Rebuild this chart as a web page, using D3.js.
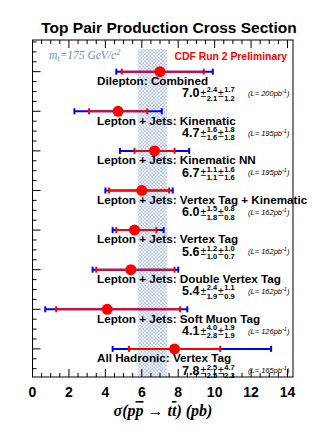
<!DOCTYPE html>
<html><head><meta charset="utf-8">
<script src="https://cdn.jsdelivr.net/npm/d3@7/dist/d3.min.js"></script>
<style>body{margin:0;background:#fff}svg{display:block}</style>
</head><body><div id="c"></div>
<script>
const categories = ["Dilepton: Combined","Lepton + Jets: Kinematic","Lepton + Jets: Kinematic NN","Lepton + Jets: Vertex Tag + Kinematic","Lepton + Jets: Vertex Tag","Lepton + Jets: Double Vertex Tag","Lepton + Jets: Soft Muon Tag","All Hadronic: Vertex Tag"];
const central = [7.0,4.7,6.7,6.0,5.6,5.4,4.1,7.8];
const statUp = [2.4,1.6,1.1,1.5,1.2,2.4,4.0,2.5];
const statDn = [2.1,1.6,1.1,1.8,1.0,1.9,2.8,2.5];
const systUp = [1.7,1.8,1.6,0.8,1.0,1.1,1.9,4.7];
const systDn = [1.2,1.8,1.6,0.8,0.7,0.9,1.9,2.3];
const totUp = [2.9,2.4,1.9,1.7,1.6,2.6,4.4,5.3];
const totDn = [2.4,2.4,1.9,2.0,1.2,2.1,3.4,3.4];
const lumi = ["200","195","195","162","162","162","126","165"];
const theoryBand = [5.8,7.4];
const xTicks = [0,2,4,6,8,10,12,14];

const W=327,H=443;
const L=32.5,R=293,T=40,B=377;
const svg=d3.select("#c").append("svg").attr("width",W).attr("height",H);
const x=d3.scaleLinear().domain([0,14]).range([L,287.5]);
const y=d3.scaleLinear().domain([-0.8,7.71]).range([T,B]);
const SANS="Liberation Sans, Arial, sans-serif";
const SERIF="Liberation Serif, Times New Roman, serif";

const defs=svg.append("defs");
const pat=defs.append("pattern").attr("id","hatch").attr("patternUnits","userSpaceOnUse").attr("width",3.5).attr("height",3.5);
pat.append("rect").attr("width",3.5).attr("height",3.5).attr("fill","#ffffff");
pat.append("path").attr("d","M0,0L3.5,3.5M3.5,0L0,3.5").attr("stroke","#a9bde6").attr("stroke-width",0.8);

// theory band
svg.append("rect").attr("x",x(theoryBand[0])).attr("y",49).attr("width",x(theoryBand[1])-x(theoryBand[0])).attr("height",B-49).attr("fill","url(#hatch)");

// frame
svg.append("rect").attr("x",L).attr("y",T).attr("width",R-L).attr("height",B-T).attr("fill","none").attr("stroke","#000").attr("stroke-width",1);

// x ticks bottom and top
const minor=d3.range(0,14.01,0.5);
const tg=svg.append("g").attr("stroke","#000").attr("stroke-width",1);
minor.forEach(v=>{
  const major = Math.abs(v%2)<1e-6;
  const len = major?8:4;
  tg.append("line").attr("x1",x(v)).attr("x2",x(v)).attr("y1",B).attr("y2",B-len);
  tg.append("line").attr("x1",x(v)).attr("x2",x(v)).attr("y1",T).attr("y2",T+len);
});
// y ticks left
d3.range(-0.75,7.71,0.25).forEach(v=>{
  const major=Math.abs(v-Math.round(v))<1e-6;
  tg.append("line").attr("x1",L).attr("x2",L+(major?8:4)).attr("y1",y(v)).attr("y2",y(v));
});

// x axis labels
svg.append("g").selectAll("text").data(xTicks).join("text")
  .attr("x",d=>x(d)).attr("y",397).attr("text-anchor","middle")
  .attr("font-family",SANS).attr("font-weight","bold").attr("font-size",14)
  .text(d=>d);

// title
svg.append("text").attr("x",169).attr("y",32.5).attr("text-anchor","middle")
  .attr("font-family",SANS).attr("font-weight","bold").attr("font-size",15.5)
  .text("Top Pair Production Cross Section");

// x axis title
const xt=svg.append("text").attr("x",163).attr("y",416).attr("text-anchor","middle")
  .attr("font-family",SERIF).attr("font-style","italic").attr("font-weight","bold").attr("font-size",16);
xt.append("tspan").text("σ(p");
xt.append("tspan").attr("text-decoration","overline").text("p");
xt.append("tspan").text(" → t");
xt.append("tspan").attr("text-decoration","overline").text("t");
xt.append("tspan").text(") (pb)");

// annotations
const mt=svg.append("text").attr("x",49).attr("y",59).attr("fill","#6d8fd0")
  .attr("font-family",SERIF).attr("font-style","italic").attr("font-size",11.5);
mt.append("tspan").text("m");
mt.append("tspan").attr("font-size",8).attr("dy",2).text("t");
mt.append("tspan").attr("dy",-2).text("=175 GeV/c");
mt.append("tspan").attr("font-size",8).attr("dy",-4).text("2");

svg.append("text").attr("x",287).attr("y",60).attr("text-anchor","end").attr("fill","#ff0000")
  .attr("font-family",SANS).attr("font-weight","bold").attr("font-size",10.4)
  .text("CDF Run 2 Preliminary");

const idx=d3.range(categories.length);
const capH=3;
const rows=svg.append("g");
idx.forEach(i=>{
  const yy=y(i);
  const g=rows.append("g");
  // total (blue)
  const x0=x(central[i]-totDn[i]), x1=x(central[i]+totUp[i]);
  g.append("line").attr("x1",x0).attr("x2",x1).attr("y1",yy).attr("y2",yy).attr("stroke","#0000ff").attr("stroke-width",2);
  [x0,x1].forEach(xx=>g.append("line").attr("x1",xx).attr("x2",xx).attr("y1",yy-capH).attr("y2",yy+capH).attr("stroke","#0000ff").attr("stroke-width",2));
  // stat (red)
  const s0=x(central[i]-statDn[i]), s1=x(central[i]+statUp[i]);
  g.append("line").attr("x1",s0).attr("x2",s1).attr("y1",yy).attr("y2",yy).attr("stroke","#ff0000").attr("stroke-width",2);
  [s0,s1].forEach(xx=>g.append("line").attr("x1",xx).attr("x2",xx).attr("y1",yy-capH).attr("y2",yy+capH).attr("stroke","#ff0000").attr("stroke-width",2));
  g.append("circle").attr("cx",x(central[i])).attr("cy",yy).attr("r",5.5).attr("fill","#ff0000");
  // label
  g.append("text").attr("x",97).attr("y",yy+13.3)
    .attr("font-family",SANS).attr("font-weight","bold").attr("font-size",11.7)
    .text(categories[i]);
  // value
  const vb=yy+25.8;
  let cx=182;
  const main=g.append("text").attr("x",cx).attr("y",vb).attr("font-family",SANS).attr("font-weight","bold").attr("font-size",12.5).text(central[i].toFixed(1));
  cx+=main.node().getComputedTextLength()+1;
  const pm1=g.append("text").attr("x",cx).attr("y",vb-0.5).attr("font-family",SANS).attr("font-size",10.5).text("±");
  cx+=pm1.node().getComputedTextLength()+0.5;
  const u1=g.append("text").attr("x",cx).attr("y",vb-5).attr("font-family",SANS).attr("font-weight","bold").attr("font-size",7.5).text(statUp[i].toFixed(1));
  const d1=g.append("text").attr("x",cx).attr("y",vb+3.4).attr("font-family",SANS).attr("font-weight","bold").attr("font-size",7.5).text(statDn[i].toFixed(1));
  cx+=Math.max(u1.node().getComputedTextLength(),d1.node().getComputedTextLength())+1;
  const pm2=g.append("text").attr("x",cx).attr("y",vb-0.5).attr("font-family",SANS).attr("font-size",10.5).text("±");
  cx+=pm2.node().getComputedTextLength()+0.5;
  g.append("text").attr("x",cx).attr("y",vb-5).attr("font-family",SANS).attr("font-weight","bold").attr("font-size",7.5).text(systUp[i].toFixed(1));
  g.append("text").attr("x",cx).attr("y",vb+3.4).attr("font-family",SANS).attr("font-weight","bold").attr("font-size",7.5).text(systDn[i].toFixed(1));
  const lt=g.append("text").attr("x",248).attr("y",vb-1.5).attr("font-family",SANS).attr("font-style","italic").attr("font-size",7.5);
  lt.append("tspan").text("(L= "+lumi[i]+"pb");
  lt.append("tspan").attr("dy",-3).attr("font-size",5.5).text("-1");
  lt.append("tspan").attr("dy",3).text(")");
});
</script></body></html>
